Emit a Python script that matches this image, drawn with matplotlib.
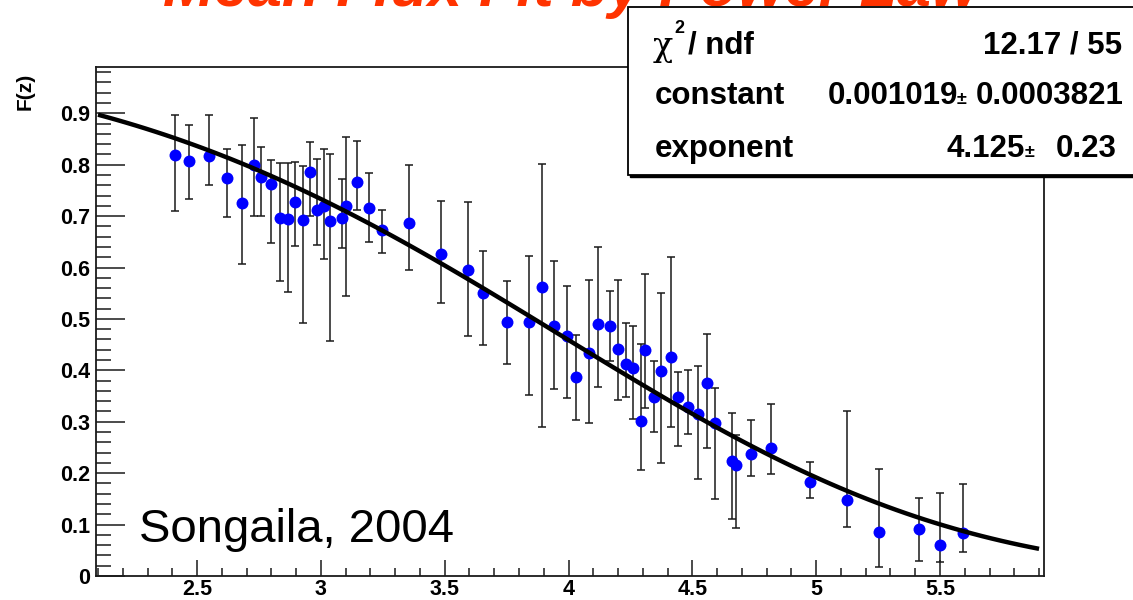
import numpy as np
import matplotlib
matplotlib.use("Agg")
import matplotlib.pyplot as plt
from matplotlib.patches import Rectangle
from matplotlib.ticker import MultipleLocator, FixedLocator, FixedFormatter

# ---------------- data ----------------
z = [2.409, 2.469, 2.548, 2.620, 2.680, 2.728, 2.758, 2.797, 2.837, 2.868,
     2.896, 2.927, 2.958, 2.986, 3.011, 3.037, 3.087, 3.100, 3.146, 3.196,
     3.246, 3.355, 3.485, 3.593, 3.653, 3.753, 3.841, 3.892, 3.943, 3.993,
     4.032, 4.082, 4.120, 4.169, 4.200, 4.232, 4.261, 4.291, 4.310, 4.347,
     4.373, 4.412, 4.442, 4.482, 4.523, 4.559, 4.592, 4.659, 4.678, 4.738,
     4.819, 4.976, 5.126, 5.255, 5.415, 5.502, 5.593]
F = [0.819, 0.808, 0.816, 0.775, 0.726, 0.799, 0.777, 0.762, 0.696, 0.694,
     0.727, 0.693, 0.786, 0.711, 0.720, 0.690, 0.696, 0.720, 0.766, 0.716,
     0.673, 0.686, 0.627, 0.596, 0.551, 0.494, 0.494, 0.563, 0.487, 0.467,
     0.388, 0.433, 0.491, 0.487, 0.441, 0.413, 0.404, 0.301, 0.439, 0.349,
     0.399, 0.426, 0.348, 0.328, 0.316, 0.376, 0.298, 0.223, 0.215, 0.238,
     0.248, 0.183, 0.147, 0.086, 0.091, 0.061, 0.084]
F_lo = [0.709, 0.733, 0.760, 0.699, 0.607, 0.701, 0.701, 0.647, 0.573, 0.552,
        0.641, 0.492, 0.701, 0.643, 0.617, 0.457, 0.638, 0.544, 0.711, 0.649,
        0.628, 0.596, 0.531, 0.466, 0.449, 0.413, 0.353, 0.290, 0.363, 0.346,
        0.303, 0.298, 0.367, 0.419, 0.342, 0.349, 0.306, 0.206, 0.326, 0.280,
        0.219, 0.289, 0.253, 0.277, 0.188, 0.248, 0.149, 0.111, 0.094, 0.195,
        0.199, 0.151, 0.096, 0.017, 0.029, 0.028, 0.046]
F_hi = [0.897, 0.878, 0.897, 0.831, 0.838, 0.891, 0.835, 0.809, 0.804, 0.804,
        0.806, 0.797, 0.845, 0.811, 0.830, 0.821, 0.772, 0.854, 0.847, 0.784,
        0.712, 0.799, 0.729, 0.727, 0.632, 0.573, 0.623, 0.802, 0.612, 0.564,
        0.468, 0.576, 0.639, 0.554, 0.576, 0.492, 0.487, 0.452, 0.587, 0.419,
        0.551, 0.620, 0.397, 0.401, 0.408, 0.471, 0.366, 0.317, 0.274, 0.303,
        0.335, 0.222, 0.321, 0.209, 0.151, 0.162, 0.179]

# fit parameters (from stats box)
fit_constant = 0.001019
fit_constant_err = 0.0003821
fit_exponent = 4.125
fit_exponent_err = 0.23
chi2_text = "12.17 / 55"
fit_range = (2.1, 5.9)

x_major = [2.5, 3.0, 3.5, 4.0, 4.5, 5.0, 5.5]
x_labels = ["2.5", "3", "3.5", "4", "4.5", "5", "5.5"]
y_major = [0.0, 0.1, 0.2, 0.3, 0.4, 0.5, 0.6, 0.7, 0.8, 0.9]
y_labels = ["0", "0.1", "0.2", "0.3", "0.4", "0.5", "0.6", "0.7", "0.8", "0.9"]

title_text = "Mean Flux Fit by Power Law"
annot_text = "Songaila, 2004"

# ---------------- figure ----------------
W, H = 1133, 600
plt.rcParams['font.family'] = ['Liberation Sans', 'DejaVu Sans']
fig = plt.figure(figsize=(W / 100, H / 100), dpi=100)

def fx(px):
    return px / W

def fy(py):
    return 1 - py / H

L, R, T, B = 96, 1044, 67, 576
ax = fig.add_axes([fx(L), fy(B), (R - L) / W, (B - T) / H])

z_arr = np.array(z)
F_arr = np.array(F)
yerr = [F_arr - np.array(F_lo), np.array(F_hi) - F_arr]
ax.errorbar(z_arr, F_arr, yerr=yerr, fmt='none', ecolor='#1a1a1a',
            elinewidth=1.1, capsize=2.6, capthick=1.1, zorder=2)
ax.plot(z_arr, F_arr, 'o', color='#0000ff', markersize=8.6,
        markeredgewidth=0, zorder=3)

zz = np.linspace(fit_range[0], fit_range[1], 100)
ax.plot(zz, np.exp(-fit_constant * (1 + zz) ** fit_exponent),
        color='black', lw=3.2, zorder=4, solid_capstyle='butt')

ax.set_xlim(2.092, 5.92)
ax.set_ylim(0, 0.99)

ax.xaxis.set_major_locator(FixedLocator(x_major))
ax.xaxis.set_major_formatter(FixedFormatter(x_labels))
ax.xaxis.set_minor_locator(MultipleLocator(0.1))
ax.yaxis.set_major_locator(FixedLocator(y_major))
ax.yaxis.set_major_formatter(FixedFormatter(y_labels))
ax.yaxis.set_minor_locator(MultipleLocator(0.02))

ax.tick_params(axis='both', which='both', direction='in', top=False, right=False,
               width=1.1, color='#1a1a1a', labelsize=15.5)
ax.tick_params(axis='x', which='major', length=11.5, pad=2)
ax.tick_params(axis='x', which='minor', length=5.8)
ax.tick_params(axis='y', which='major', length=20.9, pad=4)
ax.tick_params(axis='y', which='minor', length=10.8)
for lab in ax.get_xticklabels() + ax.get_yticklabels():
    lab.set_fontweight('bold')
for s in ax.spines.values():
    s.set_linewidth(1.3)
    s.set_color('#1a1a1a')

# y-axis title
fig.text(fx(25), fy(91), "F(z)", rotation=90, ha='center', va='center',
         fontsize=15, fontweight='bold')

# annotation
fig.text(fx(139), fy(542), annot_text, ha='left', va='baseline', fontsize=34)

# red title, mostly cut off by the top edge (as in the reference)
fig.text(fx(163), fy(6), title_text, ha='left', va='baseline', fontsize=44,
         fontweight='bold', style='italic', color='#ff3300')

# stats box
bx0, by0, bx1, by1 = 628, 7, 1150, 175
shadow = Rectangle((fx(bx0 + 2), fy(by1 + 2)), (bx1 - bx0) / W, (by1 - by0) / H,
                   transform=fig.transFigure, facecolor='black', edgecolor='black',
                   zorder=5)
box = Rectangle((fx(bx0), fy(by1)), (bx1 - bx0) / W, (by1 - by0) / H,
                transform=fig.transFigure, facecolor='white', edgecolor='black',
                linewidth=1.3, zorder=6)
fig.add_artist(shadow)
fig.add_artist(box)

fs = 22.5
kw = dict(fontsize=fs, fontweight='bold', va='baseline', zorder=7)
fig.text(fx(653), fy(56), "χ", fontsize=24, family=['DejaVu Serif'], ha='left',
         va='baseline', zorder=7)
fig.text(fx(674), fy(33), "2", fontsize=13, fontweight='bold', ha='left',
         va='baseline', zorder=7)
fig.text(fx(688), fy(53), "/ ndf", ha='left', **kw)
fig.text(fx(1122), fy(53), chi2_text, ha='right', **kw)

fig.text(fx(655), fy(104), "constant", ha='left', **kw)
fig.text(fx(958), fy(104), f"{fit_constant:.6f}", ha='right', **kw)
fig.text(fx(957), fy(104), "±", ha='left', fontsize=13, fontweight='bold',
         va='baseline', zorder=7)
fig.text(fx(1124), fy(104), f"{fit_constant_err:.7f}", ha='right', **kw)

fig.text(fx(655), fy(157), "exponent", ha='left', **kw)
fig.text(fx(1025), fy(157), f"{fit_exponent:.3f}", ha='right', **kw)
fig.text(fx(1025), fy(157), "±", ha='left', fontsize=13, fontweight='bold',
         va='baseline', zorder=7)
fig.text(fx(1117), fy(157), f"{fit_exponent_err:.2f}", ha='right', **kw)

fig.savefig("out.png", dpi=100)
